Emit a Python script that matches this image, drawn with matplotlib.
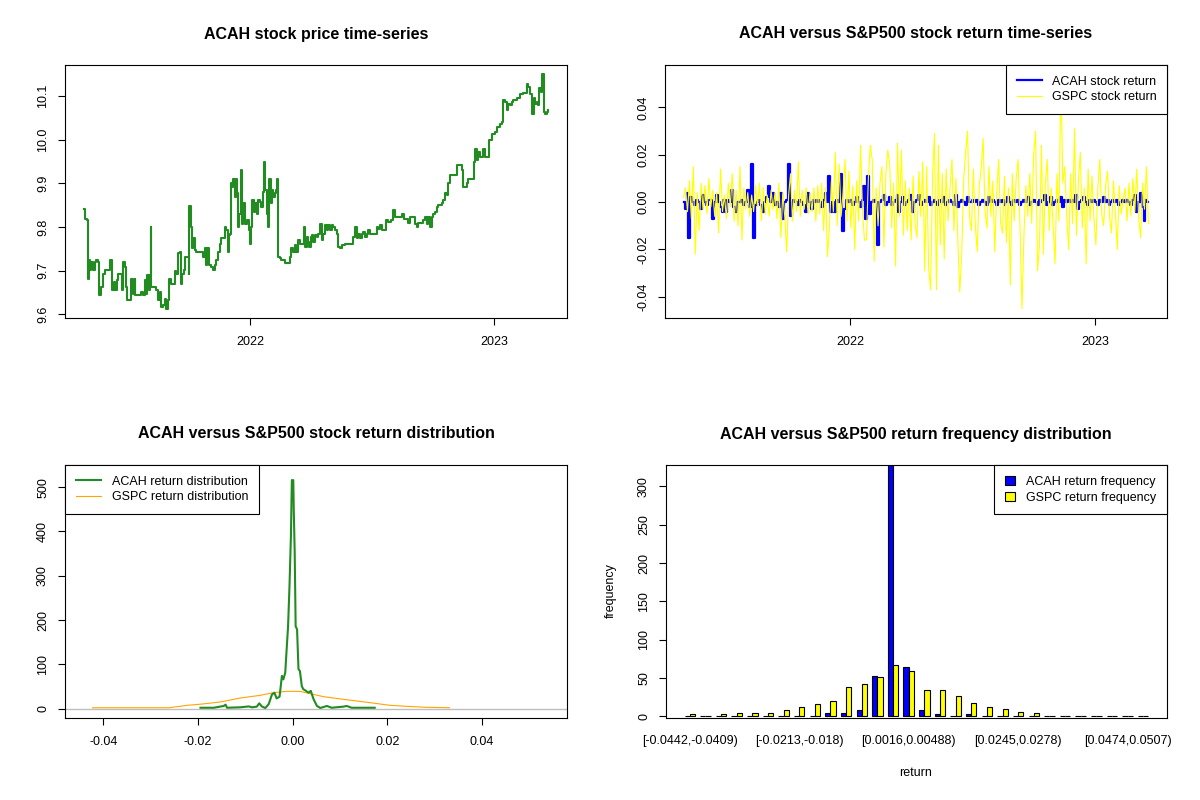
# ACAH vs S&P500: price, returns, density and frequency panels (R base-graphics look)

import numpy as np
import pandas as pd
import matplotlib
matplotlib.use("Agg")
import matplotlib.pyplot as plt

plt.rcParams['font.family'] = ['Liberation Sans', 'DejaVu Sans']

# price series: day offset from start date, closing price
price_start = "2021-04-26"
price_day = [0, 2.5, 5.5, 6, 6.5, 8, 9.5, 11.5, 14, 16.5,
             19, 21.5, 23, 25.5, 27.5, 29.5, 31.5, 36.5, 39, 42.5,
             43, 45.5, 47.5, 49.5, 51.5, 56.5, 58, 59.5, 61.5, 64,
             65.5, 69, 71.5, 74, 76.5, 77.5, 81.5, 86.5, 89, 91.5,
             94, 95.5, 97.5, 99, 100.5, 101.5, 105.5, 109, 111.5, 114,
             116.5, 119, 121.5, 124, 126.5, 127.5, 131.5, 136.5, 139, 141.5,
             144, 145.5, 147.5, 150.5, 152.5, 156.5, 157.5, 158.5, 160.5, 162.5,
             164.5, 166.5, 169, 176.5, 179, 181.5, 183.5, 185.5, 188, 191.5,
             194, 196.5, 199, 201.5, 204, 206.5, 209, 211.5, 214, 216.5,
             218, 219.5, 220.5, 222.5, 224, 226.5, 228, 230, 231.5, 233.5,
             235.5, 237.5, 239, 241.5, 244.5, 247.5, 249, 251.5, 253, 255.5,
             257.5, 259.5, 261.5, 264, 266.5, 268.5, 270, 272.5, 274.5, 276.5,
             278, 280.5, 282.5, 284.5, 286.5, 289, 290.5, 291.5, 294, 296.5,
             301.5, 306.5, 309, 311.5, 314, 316.5, 319, 321.5, 324, 329,
             330.5, 332.5, 334.5, 336.5, 338.5, 340.5, 342.5, 344.5, 346.5, 349,
             351.5, 354, 356.5, 359, 361.5, 364, 366.5, 369, 371.5, 374,
             376.5, 379, 381.5, 384, 386.5, 391.5, 401.5, 404, 406.5, 409,
             411.5, 414, 416.5, 419, 421.5, 424, 426.5, 429, 436.5, 439,
             441.5, 444, 446.5, 450.5, 452.5, 455.5, 460.5, 464, 466.5, 474,
             476.5, 480.5, 484, 486.5, 489, 494, 496.5, 499, 501.5, 509,
             511.5, 514, 516.5, 519, 521.5, 524, 526.5, 529, 531.5, 536.5,
             539, 541.5, 544, 546.5, 549, 556.5, 559, 564, 566.5, 569,
             574, 576.5, 584, 585.5, 586.5, 589, 591.5, 594, 599, 601.5,
             606.5, 607.5, 611.5, 616.5, 619, 624, 626.5, 629, 631.5, 634,
             636.5, 639, 641.5, 644, 649, 654, 659, 664, 666.5, 669,
             671.5, 672.5, 674.5, 676.5, 679, 681.5, 683, 685, 686.5, 688,
             689.5, 691.5, 694, 696.5]
price_val = [9.842, 9.819, 9.817, 9.751, 9.682, 9.724, 9.701, 9.720, 9.701, 9.720,
             9.724, 9.720, 9.644, 9.663, 9.663, 9.693, 9.701, 9.701, 9.724, 9.724,
             9.655, 9.674, 9.655, 9.678, 9.693, 9.693, 9.655, 9.720, 9.709, 9.663,
             9.632, 9.632, 9.682, 9.647, 9.682, 9.644, 9.644, 9.651, 9.644, 9.678,
             9.647, 9.689, 9.655, 9.689, 9.800, 9.663, 9.663, 9.655, 9.632, 9.651,
             9.617, 9.621, 9.636, 9.613, 9.632, 9.682, 9.670, 9.699, 9.693, 9.741,
             9.743, 9.670, 9.693, 9.701, 9.731, 9.731, 9.693, 9.848, 9.800, 9.751,
             9.774, 9.747, 9.743, 9.743, 9.731, 9.751, 9.712, 9.751, 9.712, 9.709,
             9.701, 9.712, 9.724, 9.743, 9.762, 9.774, 9.774, 9.800, 9.793, 9.743,
             9.781, 9.785, 9.900, 9.892, 9.911, 9.869, 9.911, 9.877, 9.800, 9.831,
             9.930, 9.808, 9.854, 9.808, 9.816, 9.793, 9.762, 9.800, 9.861, 9.835,
             9.854, 9.831, 9.861, 9.858, 9.846, 9.881, 9.949, 9.884, 9.831, 9.800,
             9.911, 9.854, 9.884, 9.869, 9.877, 9.884, 9.911, 9.731, 9.728, 9.724,
             9.718, 9.718, 9.731, 9.751, 9.743, 9.758, 9.743, 9.770, 9.762, 9.762,
             9.800, 9.754, 9.777, 9.766, 9.754, 9.777, 9.781, 9.766, 9.781, 9.777,
             9.785, 9.808, 9.770, 9.785, 9.804, 9.793, 9.804, 9.793, 9.804, 9.800,
             9.793, 9.785, 9.754, 9.751, 9.758, 9.762, 9.762, 9.777, 9.800, 9.774,
             9.785, 9.774, 9.785, 9.789, 9.777, 9.785, 9.793, 9.785, 9.785, 9.800,
             9.796, 9.804, 9.793, 9.793, 9.817, 9.812, 9.816, 9.839, 9.822, 9.823,
             9.831, 9.819, 9.819, 9.809, 9.822, 9.822, 9.808, 9.800, 9.809, 9.816,
             9.823, 9.808, 9.823, 9.800, 9.823, 9.831, 9.835, 9.846, 9.850, 9.854,
             9.861, 9.877, 9.873, 9.900, 9.919, 9.919, 9.942, 9.942, 9.930, 9.892,
             9.900, 9.911, 9.911, 9.949, 9.980, 9.953, 9.972, 9.961, 9.980, 9.961,
             9.961, 9.999, 10.014, 10.018, 10.030, 10.037, 10.041, 10.091, 10.087, 10.068,
             10.083, 10.079, 10.087, 10.092, 10.095, 10.106, 10.108, 10.129, 10.121, 10.106,
             10.087, 10.060, 10.095, 10.083, 10.087, 10.079, 10.118, 10.110, 10.150, 10.150,
             10.064, 10.060, 10.064, 10.068]

# daily returns (sampled), same dates for both series
ret_start, ret_end = "2021-04-27", "2023-03-22"
acah_ret = [0.000, -0.003, 0.004, -0.015, 0.002, 0.000, -0.001, 0.001, 0.000, -0.003,
            0.003, 0.000, -0.001, 0.001, 0.001, -0.007, 0.000, 0.003, 0.000, -0.002,
            -0.004, 0.001, -0.004, 0.001, 0.000, 0.005, -0.002, -0.004, 0.000, 0.000,
            0.001, -0.001, 0.000, 0.005, -0.002, 0.016, -0.015, -0.001, 0.000, 0.001,
            -0.001, -0.004, 0.000, 0.002, 0.007, 0.000, 0.004, -0.001, 0.000, -0.002,
            0.004, -0.007, 0.000, 0.001, 0.016, -0.006, 0.000, 0.001, 0.000, -0.001,
            0.001, 0.000, -0.001, -0.004, 0.004, 0.000, -0.003, 0.001, 0.000, 0.001,
            0.000, -0.002, 0.001, 0.004, 0.000, 0.011, -0.004, 0.000, -0.004, 0.001,
            0.000, 0.012, -0.012, -0.003, 0.001, 0.000, 0.001, -0.001, 0.000, 0.002,
            0.000, -0.002, 0.001, 0.007, -0.007, 0.011, -0.005, 0.000, 0.001, 0.000,
            -0.018, 0.000, 0.001, 0.003, -0.001, 0.000, 0.002, -0.001, 0.000, 0.001,
            0.003, -0.004, 0.000, 0.002, -0.001, 0.000, 0.001, 0.003, -0.004, 0.000,
            0.001, 0.003, -0.001, 0.000, 0.001, 0.000, 0.002, -0.001, 0.000, 0.001,
            0.000, -0.001, 0.001, 0.000, 0.002, -0.001, 0.000, 0.001, 0.000, -0.001,
            0.003, -0.002, 0.000, 0.001, 0.000, -0.001, 0.002, 0.000, 0.000, 0.001,
            0.000, 0.001, -0.001, 0.000, 0.001, 0.000, -0.001, 0.002, 0.000, 0.001,
            0.000, -0.001, 0.001, 0.000, 0.001, -0.001, 0.000, 0.002, 0.000, -0.001,
            0.001, 0.000, 0.001, -0.001, 0.000, 0.001, 0.000, 0.002, -0.001, 0.000,
            0.001, 0.000, -0.001, 0.001, 0.000, 0.001, 0.003, -0.001, 0.000, 0.002,
            -0.001, 0.000, 0.001, 0.000, 0.002, -0.002, 0.001, 0.000, 0.001, 0.000,
            0.001, 0.000, 0.003, -0.003, 0.000, 0.001, 0.002, 0.000, -0.001, 0.001,
            0.000, 0.001, 0.000, -0.001, 0.001, 0.000, 0.002, 0.000, 0.001, -0.001,
            0.000, 0.001, 0.000, 0.001, -0.001, 0.000, 0.001, 0.000, 0.001, 0.000,
            -0.001, 0.001, 0.003, -0.004, 0.000, 0.004, -0.002, -0.008, 0.001, 0.000]
gspc_ret = [0.002, 0.006, -0.004, 0.009, -0.007, 0.015, -0.022, 0.004, -0.012, 0.008,
            -0.003, 0.007, -0.005, 0.010, -0.002, 0.005, -0.006, 0.004, -0.013, 0.014,
            -0.004, 0.003, -0.007, 0.008, -0.002, 0.012, -0.008, 0.005, -0.010, 0.015,
            -0.016, 0.006, -0.003, 0.004, -0.006, 0.003, -0.004, 0.007, -0.002, 0.008,
            -0.008, 0.006, -0.005, 0.003, -0.006, 0.005, -0.003, 0.004, -0.007, 0.008,
            -0.015, 0.004, -0.006, -0.021, 0.003, 0.012, -0.008, 0.005, -0.004, 0.017,
            -0.006, 0.005, -0.003, 0.006, -0.005, 0.004, -0.004, 0.006, -0.008, 0.007,
            -0.005, 0.008, -0.012, 0.006, -0.023, -0.010, 0.009, -0.004, 0.021, -0.010,
            0.016, -0.006, 0.004, 0.018, -0.008, 0.013, -0.011, 0.007, -0.020, 0.009,
            -0.008, 0.024, -0.004, -0.016, -0.016, 0.010, 0.024, 0.018, -0.025, 0.006,
            -0.010, 0.008, 0.015, -0.019, 0.012, 0.022, 0.016, -0.011, 0.008, -0.027,
            0.025, -0.006, 0.022, -0.014, 0.009, -0.012, 0.006, -0.016, 0.011, -0.009,
            -0.015, 0.013, -0.006, 0.017, -0.029, 0.015, -0.028, -0.037, 0.010, 0.029,
            -0.037, 0.024, -0.018, 0.012, -0.024, 0.014, -0.008, 0.006, 0.018, -0.012,
            0.010, -0.016, -0.038, -0.022, 0.009, 0.021, 0.030, -0.006, -0.012, 0.014,
            -0.010, -0.021, 0.007, 0.014, 0.027, -0.004, -0.011, 0.015, -0.006, 0.009,
            -0.021, 0.004, 0.018, -0.009, -0.013, 0.011, -0.017, 0.006, -0.035, 0.012,
            -0.008, 0.010, 0.018, -0.011, -0.045, -0.014, 0.007, -0.006, 0.012, -0.009,
            0.020, 0.030, -0.029, -0.018, 0.024, -0.022, 0.008, 0.018, -0.012, 0.006,
            -0.010, -0.026, 0.012, -0.008, 0.054, 0.008, 0.015, -0.006, -0.020, 0.012,
            -0.009, 0.031, -0.014, 0.009, 0.021, -0.011, 0.006, -0.026, 0.014, -0.008,
            0.011, -0.007, -0.018, 0.006, 0.018, -0.005, -0.010, 0.007, 0.013, -0.006,
            -0.013, 0.009, -0.004, -0.020, 0.007, -0.005, 0.001, 0.006, -0.008, 0.008,
            -0.006, 0.010, -0.004, 0.014, -0.007, -0.015, 0.008, -0.003, 0.015, -0.009]

# kernel density estimates of the returns
acah_dens_x = [-0.0195, -0.0167, -0.0146, -0.0142, -0.0139, -0.0111, -0.0093, -0.0086, -0.0076, -0.0071,
               -0.0065, -0.0058, -0.0051, -0.0044, -0.0039, -0.0034, -0.0028, -0.0023, -0.0020, -0.0016,
               -0.0013, -0.0010, -0.0007, -0.0004, -0.0002, 0.0001, 0.0002, 0.0004, 0.0006, 0.0009,
               0.0012, 0.0015, 0.0019, 0.0022, 0.0028, 0.0033, 0.0038, 0.0044, 0.0051, 0.0058,
               0.0072, 0.0082, 0.0107, 0.0114, 0.0124, 0.0173]
acah_dens_y = [2, 2, 6, 9, 2, 3, 5, 3, 4.5, 12,
               4.5, 1.5, 10, 32, 36, 23, 27, 74, 66, 81,
               134, 186, 277, 389, 516, 516, 450, 352, 186, 179,
               89, 85, 51, 44, 40, 36, 40, 21, 6, 1.5,
               6, 2, 4.5, 6, 2, 2]
gspc_dens_x = [-0.0423, -0.0262, -0.0223, -0.0195, -0.0153, -0.0111, -0.0069, -0.0041, -0.0013,
               0.0015, 0.0044, 0.0065, 0.0107, 0.0163, 0.0205, 0.0244, 0.0282, 0.0331]
gspc_dens_y = [2, 2, 7.5, 10, 15, 24, 30, 36, 39,
               39, 32, 27, 21, 13.5, 7.5, 5, 3, 2]
dens_range = [-0.0442, 0.054]

# frequency of returns in 30 bins
acah_freq = [0, 0, 0, 0, 0, 0, 0, 1, 0, 4, 4, 8, 53, 335, 65,
             8, 3, 1, 3, 0, 0, 0, 0, 0, 0, 0, 0, 0, 0, 0]
gspc_freq = [3, 1, 3, 4, 5, 4, 8, 13, 16, 20, 38, 42, 51, 67, 59,
             34, 35, 27, 18, 13, 10, 6, 4, 0, 0, 0, 0, 0, 0, 1]
freq_labels = ["[-0.0442,-0.0409)", "[-0.0213,-0.018)", "[0.0016,0.00488)",
               "[0.0245,0.0278)", "[0.0474,0.0507)"]
freq_label_bins = [0, 7, 14, 21, 28]

W, H = 1200, 800
fig = plt.figure(figsize=(12, 8), dpi=100)


def panel(x0, y0, x1, y1):
    # axes from pixel box
    return fig.add_axes([x0 / W, 1 - y1 / H, (x1 - x0) / W, (y1 - y0) / H])


def r_look(ax, xpad=8.0):
    for s in ax.spines.values():
        s.set_linewidth(0.8)
        s.set_color("black")
    ax.tick_params(direction="out", length=5, width=0.8, labelsize=9, colors="black")
    ax.tick_params(axis="x", pad=xpad)
    ax.tick_params(axis="y", pad=6.5, labelrotation=90)
    plt.setp(ax.get_yticklabels(), va="center")


def r_legend(ax, loc, **kw):
    leg = ax.legend(loc=loc, borderaxespad=0, fancybox=False, fontsize=9,
                    edgecolor="black", framealpha=1, labelspacing=0.3,
                    borderpad=0.85, **kw)
    leg.get_frame().set_linewidth(0.8)
    return leg


def title(x, y, s):
    fig.text(x / W, 1 - y / H, s, ha="center", va="center", fontsize=11.5, fontweight="bold")


year_ticks = [pd.Timestamp("2022-01-01"), pd.Timestamp("2023-01-01")]

# 1 - price time-series
ax1 = panel(65, 65, 567, 318)
price_dates = pd.Timestamp(price_start) + pd.to_timedelta(price_day, unit="D")
ax1.plot(price_dates, price_val, color="forestgreen", lw=1.5, drawstyle="steps-post")
ax1.margins(x=0.04, y=0.04)
ax1.set_xticks(year_ticks)
ax1.set_xticklabels(["2022", "2023"])
ax1.set_yticks([9.6, 9.7, 9.8, 9.9, 10.0, 10.1])
ax1.set_yticklabels(["9.6", "9.7", "9.8", "9.9", "10.0", "10.1"])
r_look(ax1)
title(316, 34, "ACAH stock price time-series")

# 2 - return time-series
ax2 = panel(665, 65, 1167, 318)
ret_dates = pd.date_range(ret_start, ret_end, periods=len(gspc_ret))
ax2.plot(ret_dates, acah_ret, color="blue", lw=1.6, drawstyle="steps-mid", label="ACAH stock return")
ax2.plot(ret_dates, gspc_ret, color="yellow", lw=0.8, label="GSPC stock return")
ax2.margins(x=0.04, y=0.04)
ax2.set_xticks(year_ticks)
ax2.set_xticklabels(["2022", "2023"])
ax2.set_yticks([-0.04, -0.02, 0.0, 0.02, 0.04])
ax2.set_yticklabels(["-0.04", "-0.02", "0.00", "0.02", "0.04"])
r_look(ax2)
r_legend(ax2, "upper right", handlelength=2.0, handletextpad=0.8)
title(916, 34, "ACAH versus S&P500 stock return time-series")

# 3 - return density
ax3 = panel(65, 465, 567, 718)
ax3.axhline(0, color="#bebebe", lw=1, zorder=1)
ax3.plot(acah_dens_x, acah_dens_y, color="forestgreen", lw=1.5, label="ACAH return distribution", zorder=3)
ax3.plot(gspc_dens_x, gspc_dens_y, color="orange", lw=0.8, label="GSPC return distribution", zorder=2)
span = dens_range[1] - dens_range[0]
ax3.set_xlim(dens_range[0] - 0.04 * span, dens_range[1] + 0.04 * span)
top = max(acah_dens_y) + 13
ax3.set_ylim(-0.04 * top, top * 1.04)
ax3.set_xticks([-0.04, -0.02, 0.0, 0.02, 0.04])
ax3.set_xticklabels(["-0.04", "-0.02", "0.00", "0.02", "0.04"])
ax3.set_yticks([0, 100, 200, 300, 400, 500])
r_look(ax3)
r_legend(ax3, "upper left", handlelength=2.0, handletextpad=0.9)
title(316, 434, "ACAH versus S&P500 stock return distribution")

# 4 - frequency barplot (beside, space = c(0, 1))
ax4 = panel(666, 465, 1167, 718)
grp = np.arange(len(acah_freq))
ax4.bar(1.5 + 3 * grp, acah_freq, width=1, color="blue", edgecolor="black", lw=0.8,
        label="ACAH return frequency")
ax4.bar(2.5 + 3 * grp, gspc_freq, width=1, color="yellow", edgecolor="black", lw=0.8,
        label="GSPC return frequency")
lo, hi = 1, 3 * len(acah_freq)
ax4.set_xlim(lo - 0.04 * (hi - lo), hi + 0.04 * (hi - lo))
ax4.set_ylim(-2, 328)
ax4.set_xticks([2 + 3 * g for g in freq_label_bins])
ax4.set_xticklabels(freq_labels)
ax4.set_yticks([0, 50, 100, 150, 200, 250, 300])
r_look(ax4)
ax4.tick_params(axis="x", length=0, pad=12.5)
r_legend(ax4, "upper right", handlelength=0.8, handleheight=0.8, handletextpad=0.9)
title(916, 434, "ACAH versus S&P500 return frequency distribution")
fig.text(916 / W, 1 - 773 / H, "return", ha="center", va="center", fontsize=9)
fig.text(611 / W, 1 - 591 / H, "frequency", ha="center", va="center", fontsize=9, rotation=90)

fig.savefig("out.png", dpi=100)
